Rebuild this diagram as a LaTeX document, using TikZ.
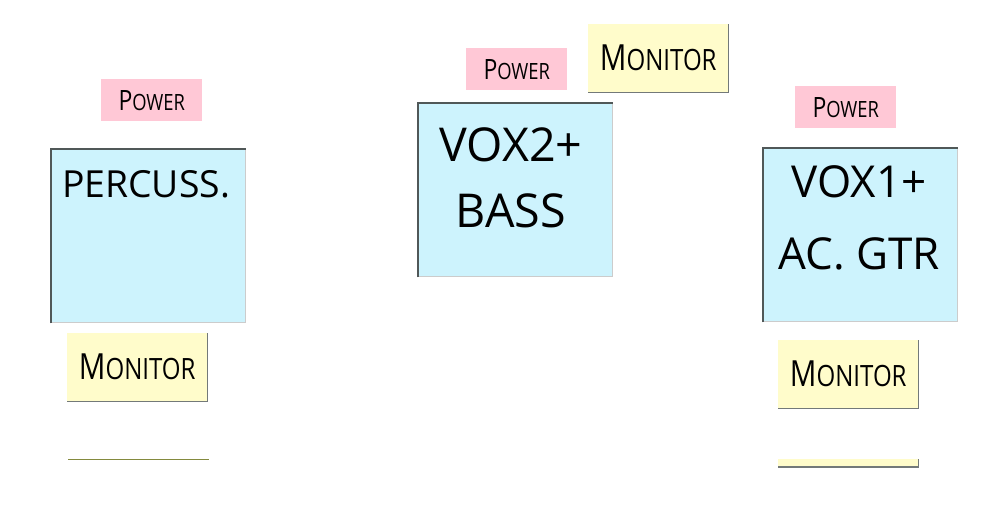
\documentclass[tikz,border=0pt]{standalone}
\usepackage{fontspec}
\setmainfont{Open Sans}
\usetikzlibrary{calc}

\definecolor{unitblue}{HTML}{CDF3FD}
\definecolor{powerpink}{HTML}{FFC8D6}
\definecolor{monyellow}{HTML}{FFFCCB}
\definecolor{edgegray}{HTML}{505858}

% small caps made by hand: big first letter, smaller rest
\newcommand{\tagcaps}[4]{\scalebox{0.82}[1]{{\fontsize{#3}{#3}\selectfont #1}{\fontsize{#4}{#4}\selectfont #2}}}

\begin{document}
\begin{tikzpicture}[x=0.75pt,y=-0.75pt,
	unit/.style={fill=unitblue, draw=gray!40, line width=0.8pt, inner sep=0pt, anchor=north west,
		minimum width=145.5pt, minimum height=130pt},
	unitlabel/.style={anchor=north, inner sep=0pt, align=center},
	powertag/.style={fill=powerpink, inner sep=0pt, anchor=north west,
		minimum width=75.75pt, minimum height=31.5pt},
	montag/.style={fill=monyellow, inner sep=0pt, anchor=north west,
		minimum width=105pt, minimum height=51pt},
	edge/.style={draw=edgegray, line width=1.2pt},
	shadow/.style={draw=edgegray!80, line width=1.3pt}]
	\useasboundingbox (0,0) rectangle (997,514);
	
	% stage units
	\node[unit] (perc) at (51,149) {};
	\node[unit] (vox2) at (418,103) {};
	\node[unit] (vox1) at (763,148) {};
	\draw[edge] (perc.south west) -- (perc.north west) -- (perc.north east);
	\draw[edge] (vox2.south west) -- (vox2.north west) -- (vox2.north east);
	\draw[edge] (vox1.south west) -- (vox1.north west) -- (vox1.north east);
	
	\node[unitlabel, font=\fontsize{28}{34}\selectfont] (perctext) at (146,170) {PERCUSS.};
	\node[unitlabel, font=\fontsize{35}{50}\selectfont] (vox2text) at (511,127) {VOX2+\\BASS};
	\node[unitlabel, font=\fontsize{33}{54}\selectfont] (vox1text) at (859,165) {VOX1+\\AC. GTR};
	
	% power
	\node[powertag] (powl) at (101,79) {\tagcaps{P}{OWER}{21}{16.8}};
	\node[powertag] (powm) at (466,48) {\tagcaps{P}{OWER}{21}{16.8}};
	\node[powertag] (powr) at (795,86) {\tagcaps{P}{OWER}{21}{16.8}};
	
	% monitors
	\node[montag] (monl) at (67,333) {\tagcaps{M}{ONITOR}{27}{22}};
	\node[montag] (monm) at (588,24) {\tagcaps{M}{ONITOR}{27}{22}};
	\node[montag] (monr) at (778,340) {\tagcaps{M}{ONITOR}{27}{22}};
	\draw[shadow] (monl.north east) -- (monl.south east) -- (monl.south west);
	\draw[shadow] (monm.north east) -- (monm.south east) -- (monm.south west);
	\draw[shadow] (monr.north east) -- (monr.south east) -- (monr.south west);
	
	% cut-off strips at the bottom
	\draw[draw=edgegray!70!yellow, line width=1pt] (68,459.5) -- (209,459.5);
	\node[montag, minimum height=5.6pt] (stripr) at (778,459) {};
	\draw[shadow] (stripr.north east) -- (stripr.south east) -- (stripr.south west);
\end{tikzpicture}
\end{document}
